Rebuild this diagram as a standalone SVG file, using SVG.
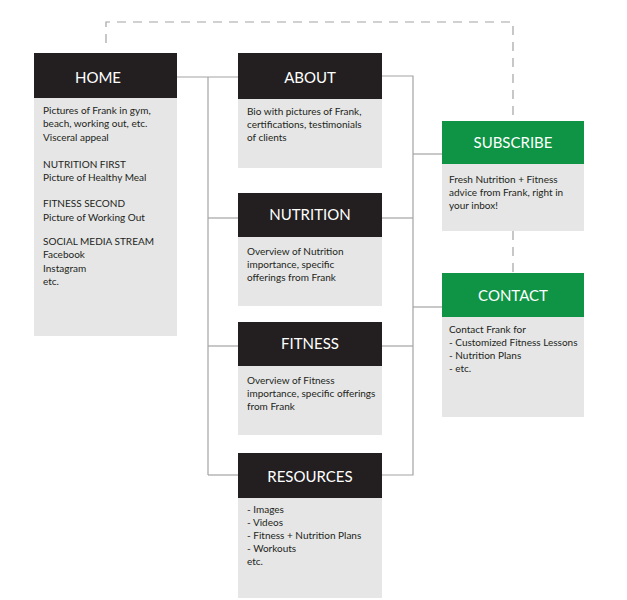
<svg xmlns="http://www.w3.org/2000/svg" width="627" height="600" viewBox="0 0 627 600">
<style>
.hd{fill:#231f20}
.gr{fill:#0e9444}
.bd{fill:#e6e6e6}
.ht{font-family:Lato,"Liberation Sans",sans-serif;font-size:15px;fill:#ffffff;text-anchor:middle}
.bt{font-family:Lato,"Liberation Sans",sans-serif;font-size:10px;fill:#231f20}
.ln{stroke:#a3a3a3;stroke-width:1.2;fill:none}
.ds{stroke:#a3a3a3;stroke-width:1.2;fill:none;stroke-dasharray:9,7}
</style>
<rect width="627" height="600" fill="#ffffff"/>
<g id="connectors">
<path class="ds" d="M106,43 V22 H513 V121"/>
<path class="ds" d="M513,231 V273"/>
<path class="ln" d="M177,77 H238"/>
<path class="ln" d="M208,77 V475"/>
<path class="ln" d="M208,218 H238"/>
<path class="ln" d="M208,346 H238"/>
<path class="ln" d="M208,475 H238"/>
<path class="ln" d="M382,76 H413 V475 H382"/>
<path class="ln" d="M382,218 H413"/>
<path class="ln" d="M382,346 H413"/>
<path class="ln" d="M413,154 H442"/>
<path class="ln" d="M413,307 H442"/>
</g>
<g id="home">
<rect class="bd" x="34" y="98" width="143" height="238"/>
<rect class="hd" x="34" y="53" width="143" height="45"/>
<text class="ht" x="98" y="83">HOME</text>
<text class="bt"><tspan x="43" y="114">Pictures of Frank in gym,</tspan><tspan x="43" y="127">beach, working out, etc.</tspan><tspan x="43" y="141">Visceral appeal</tspan><tspan x="43" y="168">NUTRITION FIRST</tspan><tspan x="43" y="181">Picture of Healthy Meal</tspan><tspan x="43" y="207">FITNESS SECOND</tspan><tspan x="43" y="221">Picture of Working Out</tspan><tspan x="43" y="245">SOCIAL MEDIA STREAM</tspan><tspan x="43" y="258">Facebook</tspan><tspan x="43" y="272">Instagram</tspan><tspan x="43" y="285">etc.</tspan></text>
</g>
<g id="about">
<rect class="bd" x="238" y="99" width="144" height="69"/>
<rect class="hd" x="238" y="53" width="144" height="46"/>
<text class="ht" x="310" y="83">ABOUT</text>
<text class="bt"><tspan x="247" y="115">Bio with pictures of Frank,</tspan><tspan x="247" y="128">certifications, testimonials</tspan><tspan x="247" y="141">of clients</tspan></text>
</g>
<g id="nutrition">
<rect class="bd" x="238" y="237" width="144" height="69"/>
<rect class="hd" x="238" y="193" width="144" height="44"/>
<text class="ht" x="310" y="220">NUTRITION</text>
<text class="bt"><tspan x="247" y="255">Overview of Nutrition</tspan><tspan x="247" y="268">importance,  specific</tspan><tspan x="247" y="281">offerings from Frank</tspan></text>
</g>
<g id="fitness">
<rect class="bd" x="238" y="366" width="144" height="69"/>
<rect class="hd" x="238" y="322" width="144" height="44"/>
<text class="ht" x="310" y="349">FITNESS</text>
<text class="bt"><tspan x="247" y="384">Overview of Fitness</tspan><tspan x="247" y="397">importance, specific offerings</tspan><tspan x="247" y="410">from Frank</tspan></text>
</g>
<g id="resources">
<rect class="bd" x="238" y="498" width="144" height="100"/>
<rect class="hd" x="238" y="453" width="144" height="45"/>
<text class="ht" x="310" y="482">RESOURCES</text>
<text class="bt"><tspan x="247" y="513">- Images</tspan><tspan x="247" y="526">- Videos</tspan><tspan x="247" y="539">- Fitness + Nutrition Plans</tspan><tspan x="247" y="552">- Workouts</tspan><tspan x="247" y="565">etc.</tspan></text>
</g>
<g id="subscribe">
<rect class="bd" x="442" y="164" width="142" height="67"/>
<rect class="gr" x="442" y="121" width="142" height="43"/>
<text class="ht" x="513" y="148">SUBSCRIBE</text>
<text class="bt"><tspan x="449" y="183">Fresh Nutrition + Fitness</tspan><tspan x="449" y="196">advice from Frank, right in</tspan><tspan x="449" y="209">your inbox!</tspan></text>
</g>
<g id="contact">
<rect class="bd" x="442" y="317" width="142" height="100"/>
<rect class="gr" x="442" y="273" width="142" height="44"/>
<text class="ht" x="513" y="301">CONTACT</text>
<text class="bt"><tspan x="449" y="333">Contact Frank for</tspan><tspan x="449" y="346">- Customized Fitness Lessons</tspan><tspan x="449" y="359">- Nutrition Plans</tspan><tspan x="449" y="372">- etc.</tspan></text>
</g>
</svg>
